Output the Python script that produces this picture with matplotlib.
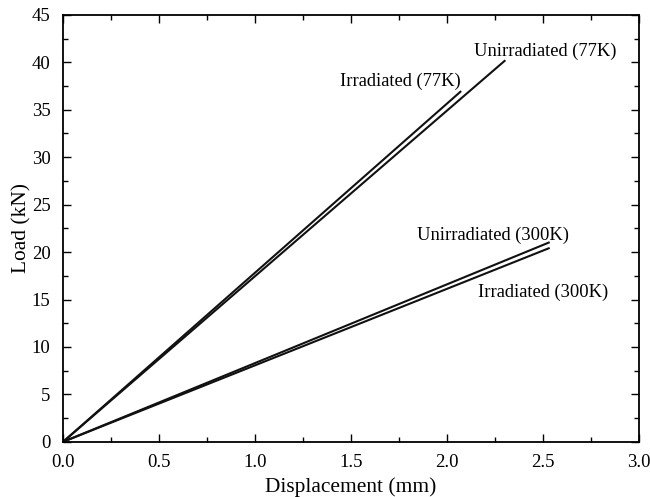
import numpy as np
import matplotlib.pyplot as plt
from matplotlib.ticker import MultipleLocator

plt.rcParams['font.family'] = ['Liberation Serif', 'DejaVu Serif']

# displacement (mm) / load (kN) for each curve
unirr_77_x = [0.0, 2.30]
unirr_77_y = [0.0, 40.15]
irr_77_x = [0.0, 2.07]
irr_77_y = [0.0, 36.9]
unirr_300_x = [0.0, 2.53]
unirr_300_y = [0.0, 21.0]
irr_300_x = [0.0, 2.53]
irr_300_y = [0.0, 20.4]

fig = plt.figure(figsize=(6.5, 4.97), dpi=100)
ax = fig.add_axes([0.097, 0.111, 0.886, 0.859])

for x, y in [(unirr_77_x, unirr_77_y), (irr_77_x, irr_77_y),
             (unirr_300_x, unirr_300_y), (irr_300_x, irr_300_y)]:
    ax.plot(x, y, color='#111111', lw=1.5)

ax.text(2.51, 41.2, 'Unirradiated (77K)', ha='center', va='center', fontsize=13.3)
ax.text(1.755, 38.0, 'Irradiated (77K)', ha='center', va='center', fontsize=13.3)
ax.text(2.24, 21.8, 'Unirradiated (300K)', ha='center', va='center', fontsize=13.3)
ax.text(2.50, 15.8, 'Irradiated (300K)', ha='center', va='center', fontsize=13.3)

ax.set_xlim(0, 3)
ax.set_ylim(0, 45)
ax.xaxis.set_major_locator(MultipleLocator(0.5))
ax.xaxis.set_minor_locator(MultipleLocator(0.25))
ax.yaxis.set_major_locator(MultipleLocator(5))
ax.yaxis.set_minor_locator(MultipleLocator(2.5))
ax.xaxis.set_major_formatter(plt.FormatStrFormatter('%.1f'))
ax.tick_params(which='both', direction='in', top=True, right=True, labelsize=13.5, width=1)
ax.tick_params(which='major', length=6)
ax.tick_params(axis='x', which='major', pad=9)
ax.tick_params(axis='y', which='major', pad=9)
ax.tick_params(which='minor', length=3.5)
for s in ax.spines.values():
    s.set_linewidth(1.3)

ax.set_xlabel('Displacement (mm)', fontsize=15.4, labelpad=4)
ax.set_ylabel('Load (kN)', fontsize=15.4, labelpad=0)

fig.savefig('out.png', dpi=100)
